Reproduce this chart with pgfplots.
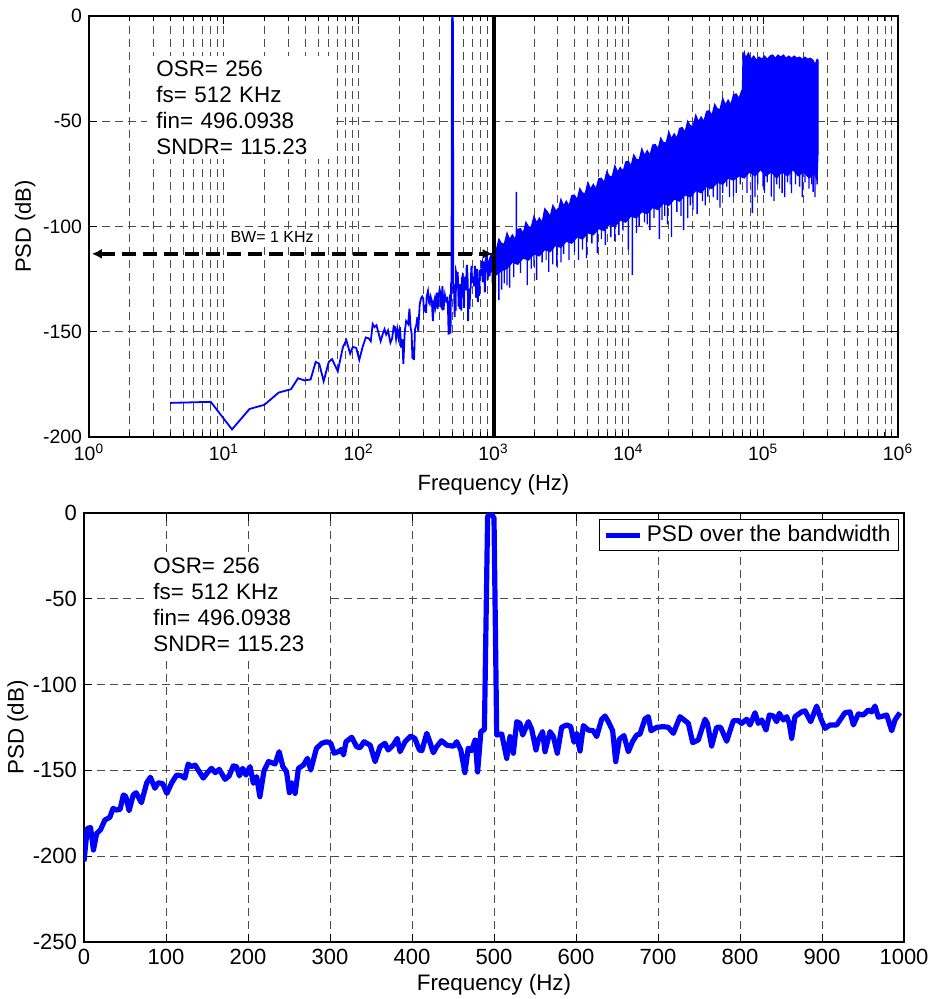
\documentclass[border=0pt]{standalone}
\usepackage{pgfplots}
\pgfplotsset{compat=1.18}
\usepackage{pgfplotstable}
\usepackage{fontspec}
\setmainfont{Liberation Sans}
\usetikzlibrary{arrows.meta}

% PSD bins from 0 to 1 kHz (shared by both panels)
\pgfplotstableread{
f psd
0 -203
4 -183.8
8 -183.3
11.5 -196.4
15.5 -186.7
20 -184.7
25.5 -178.9
31.5 -177.3
35.5 -172.1
39.5 -173.1
44 -172.7
48 -164.3
51 -165.2
55 -173.5
60 -164.3
63.5 -163
70 -168.8
76.5 -157.2
81 -154
86.5 -160.4
90.5 -157.2
96 -157.7
101 -163.4
107 -157.2
113 -152.7
119 -153.2
123 -154.5
127 -146.3
131 -147.8
135.5 -146.9
140.5 -150.7
145.5 -154.5
150.5 -151.3
155.5 -148.8
160 -151.3
165 -149.4
172 -155.2
177 -153.2
182 -147.4
186 -147.8
189.5 -153.2
193.5 -148.8
197.5 -152.7
202.5 -147.8
206.5 -157.5
210.5 -153.6
214.5 -165.3
219.5 -150.2
225 -144.9
229 -145.5
233 -146.3
238 -139.1
242.5 -147.8
247 -150.7
250.5 -163
253.5 -157.2
257.5 -163.4
261.5 -148.8
267.5 -146.9
272.5 -143
276.5 -149.8
283.5 -137.1
290 -134.2
296 -133.3
301 -134.2
305 -140
310 -139.1
314 -137.8
316.5 -141
319.5 -133.3
326.5 -130.7
332.5 -136.2
336.5 -136.8
341.5 -133.3
349 -135.3
355 -144.9
361 -136.2
367 -134.2
371 -138.1
377 -135.3
382 -131.4
385.5 -139.1
391.5 -133.3
398.5 -130
403.5 -131.4
409 -138.1
412 -138.5
418 -128.4
421 -132.3
426 -139.7
430 -136.2
436 -132.7
442.5 -135.3
450.5 -135.9
454.5 -133.3
459.5 -138.1
464.5 -151.3
468.5 -137.1
472.5 -138.5
477 -132.3
480 -150.9
484 -127.4
488.3 -126.1
492.2 -2
496.1 0
500 -3
503.3 -129.4
509.4 -128.8
515.5 -143
519.5 -130.3
523.6 -140
527.7 -121.6
531.7 -122.6
535 -129.4
541.9 -121.6
546 -126.1
551.2 -138.1
554 -132.3
559.3 -127.4
562.2 -139.1
568.3 -127.4
572.4 -130.3
577.2 -140
582.5 -124.9
588.7 -123.5
593.5 -124.5
597.6 -133.6
600.8 -128.4
604.9 -138.7
609 -123.9
615 -126.5
621.1 -126.9
625.2 -130.3
631.3 -120.2
635.4 -118.3
639.4 -121.6
644.7 -126.9
648.4 -144.9
652.8 -131.9
658.5 -129.7
663.8 -139.1
669 -133.2
674 -129.4
678 -128.8
684.1 -120
688.2 -118.7
691.5 -126.9
698.4 -124.9
706.5 -124.5
712.6 -124.9
718.7 -128.4
726.8 -118.7
732.9 -121
737 -122.6
742.3 -133.8
749.1 -132.3
757.3 -120.2
760.2 -122.6
765.4 -135.8
771.5 -124.9
776.4 -124.9
783.7 -133
791.9 -121
798 -121
802 -122.6
808.1 -120.2
812.2 -123.5
818.3 -116.4
822.3 -122.6
826.5 -120.6
831.7 -126.5
835.8 -117.7
840.7 -118.3
844.7 -121.6
847.9 -116.7
852.8 -120.6
856.9 -118.7
860.1 -122.6
863 -131.3
867 -118.7
875.2 -115.9
879.3 -115.3
886.2 -121.6
893.5 -112.5
898.4 -119.6
903.7 -125.5
909.8 -123.5
917.9 -123.5
928 -116.4
934.1 -115.9
938.2 -123.5
944.3 -117.1
950.4 -117.7
956.5 -114.8
960.6 -115.9
964.6 -112.5
968.7 -119
974.8 -118.3
978.9 -117.7
985 -126.9
989 -120.6
995.1 -116.4
}\lowtab

\pgfplotsset{
  matlab/.style={
    scale only axis,
    tick align=inside,
    major tick length=4pt,
    minor tick length=2.5pt,
    axis line style={line width=0.6pt},
    every tick/.style={black, line width=0.5pt},
    major grid style={black!70, line width=0.45pt, dash pattern=on 4pt off 2.5pt},
    minor grid style={black!70, line width=0.45pt, dash pattern=on 4pt off 2.5pt},
    /pgf/number format/assume math mode=true,
    /pgf/number format/1000 sep={},
  },
}

\begin{document}
\begin{tikzpicture}
\path[use as bounding box] (0pt,0pt) rectangle (465.5pt,-499.5pt);

% ---------- top panel: full spectrum, log frequency ----------
\begin{axis}[matlab,
    at={(44.5pt,-8pt)}, anchor=north west,
    width=404.5pt, height=210.5pt,
    xmode=log, xmin=1, xmax=1e6, ymin=-200, ymax=0,
    xtick={1,10,100,1000,10000,100000,1000000},
    xticklabels={10\textsuperscript{0},10\textsuperscript{1},10\textsuperscript{2},10\textsuperscript{3},10\textsuperscript{4},10\textsuperscript{5},10\textsuperscript{6}},
    minor xtick={2,3,4,5,6,7,8,9,20,30,40,50,60,70,80,90,200,300,400,500,600,700,800,900,
      2000,3000,4000,5000,6000,7000,8000,9000,20000,30000,40000,50000,60000,70000,80000,90000,
      200000,300000,400000,500000,600000,700000,800000,900000},
    ytick={-200,-150,-100,-50,0},
    xmajorgrids, xminorgrids, ymajorgrids,
    ticklabel style={font=\fontsize{9.7}{11}\selectfont},
    label style={font=\fontsize{11}{13}\selectfont},
    xlabel={Frequency (Hz)}, ylabel={PSD (dB)},
    ylabel shift=-3pt,
]
% noise band above 1 kHz
\addplot[draw=blue, fill=blue, line width=0.5pt] coordinates {
(1000,-109) (1047,-111.2) (1096,-105.9) (1148,-108.1) (1202,-108.3) (1259,-103) (1318,-106.2) (1380,-103.9)
(1445,-106.1) (1514,-101.3) (1585,-101) (1660,-103.2) (1738,-97.9) (1820,-100.1) (1905,-100.3) (1995,-95)
(2089,-98.2) (2188,-95.9) (2291,-98.1) (2399,-91.5) (2512,-93) (2630,-95.2) (2754,-89.9) (2884,-92.1)
(3020,-92.3) (3162,-87) (3311,-90.2) (3467,-87.9) (3631,-90.1) (3802,-85.3) (3981,-85) (4169,-87.2)
(4365,-81.9) (4571,-84.1) (4786,-84.3) (5012,-79) (5248,-82.2) (5495,-79.9) (5754,-82.1) (6026,-77.3)
(6310,-77) (6607,-79.2) (6918,-73.9) (7244,-76.1) (7586,-76.3) (7943,-71) (8318,-74.2) (8710,-71.9)
(9120,-74.1) (9550,-69.3) (10000,-69) (10471,-71.2) (10965,-65.9) (11482,-68.1) (12023,-68.3) (12589,-63)
(13183,-66.2) (13804,-63.9) (14454,-66.1) (15136,-61.3) (15849,-61) (16596,-63.2) (17378,-57.9) (18197,-60.1)
(19055,-60.3) (19953,-55) (20893,-58.2) (21878,-55.9) (22909,-58.1) (23988,-53.3) (25119,-53) (26303,-55.2)
(27542,-49.9) (28840,-52.1) (30200,-52.3) (31623,-47) (33113,-50.2) (34674,-47.9) (36308,-50.1) (38019,-45.3)
(39811,-45) (41687,-47.2) (43652,-41.9) (45709,-44.1) (47863,-44.3) (50119,-39) (52481,-42.2) (54954,-39.9)
(57544,-42.1) (60256,-37.3) (63096,-37) (66069,-39.2) (69183,-35.5) (69984,-36) (70795,-19) (72444,-17)
(74131,-20) (77625,-17.5) (81283,-20.5) (85114,-19) (89125,-21) (93325,-19.5) (97724,-20.5) (102329,-19)
(107152,-20.5) (112202,-19) (117490,-18.5) (123027,-20) (128825,-18.5) (134896,-19.5) (141254,-18.5) (147911,-20)
(154882,-19) (162181,-20) (169824,-19) (177828,-20) (186209,-19.5) (194984,-20.5) (204174,-19.5) (213796,-20.5)
(223872,-20) (234423,-21) (242661,-23) (251189,-20.5) (256000,-21)
(256000,-63) (251189,-78) (239883,-75) (218776,-77) (199526,-74) (181970,-76) (165959,-73) (151356,-76)
(138038,-74) (125893,-77) (114815,-74) (104713,-76) (95499,-73) (87096,-76) (79433,-74) (72444,-77)
(66069,-76) (60256,-78) (54954,-77) (50119,-80) (45709,-79) (41687,-82) (38019,-81) (34674,-84)
(31623,-83) (28840,-86) (26303,-85) (23988,-88) (21878,-87) (19953,-90) (18197,-89) (16596,-92)
(15136,-91) (13804,-94) (12589,-93) (11482,-96) (10471,-95) (9550,-98) (8710,-97) (7943,-100)
(7244,-99) (6607,-102) (6026,-101) (5495,-104) (5012,-103) (4571,-106) (4169,-105) (3802,-108)
(3467,-107) (3162,-110) (2884,-109) (2630,-112) (2399,-111) (2188,-114) (1995,-113) (1820,-116)
(1660,-115) (1514,-118) (1380,-117) (1259,-120) (1148,-121) (1047,-123) (1000,-124) (1000,-109)
};
% deep spikes of the band
\addplot[blue, line width=0.7pt] coordinates {
(1096,-115) (1096,-135) (1096,-115) (1148,-114) (1148,-130) (1148,-114)
(1202,-113) (1202,-127) (1202,-113) (1318,-112) (1318,-129) (1318,-112)
(1479,-108) (1479,-83.5) (1479,-108) (1778,-110) (1778,-127.8) (1778,-110)
(1905,-109) (1905,-120) (1905,-109) (2089,-108) (2089,-125.4) (2089,-108)
(2291,-107) (2291,-117) (2291,-107) (2570,-106) (2570,-121.5) (2570,-106)
(2951,-104) (2951,-119) (2951,-104) (3311,-103) (3311,-113) (3311,-103)
(3631,-102) (3631,-116) (3631,-102) (4266,-100) (4266,-115.9) (4266,-100)
(4898,-98) (4898,-115) (4898,-98) (5370,-97) (5370,-108) (5370,-97)
(5888,-96) (5888,-112.7) (5888,-96) (6761,-95) (6761,-108.8) (6761,-95)
(7413,-94) (7413,-105) (7413,-94) (8511,-92) (8511,-104) (8511,-92)
(10000,-90) (10000,-111) (10000,-90) (10715,-89) (10715,-123) (10715,-89)
(12023,-88) (12023,-100) (12023,-88) (13183,-87) (13183,-98) (13183,-87)
(14454,-86) (14454,-101.7) (14454,-86) (15488,-85) (15488,-96) (15488,-85)
(16982,-84) (16982,-106) (16982,-84) (18621,-83) (18621,-95) (18621,-83)
(20893,-82) (20893,-105) (20893,-82) (22909,-81) (22909,-93) (22909,-81)
(25704,-80) (25704,-101.7) (25704,-80) (28840,-79) (28840,-90) (28840,-79)
(32359,-78) (32359,-94) (32359,-78) (35481,-77) (35481,-88) (35481,-77)
(38905,-76) (38905,-85.8) (38905,-76) (42658,-75) (42658,-86) (42658,-75)
(45709,-74) (45709,-87.4) (45709,-74) (50119,-73) (50119,-84) (50119,-73)
(53703,-72) (53703,-81) (53703,-72) (60256,-72) (60256,-85.8) (60256,-72)
(67608,-71) (67608,-80) (67608,-71) (83176,-70) (83176,-93.7) (83176,-70)
(91201,-69) (91201,-80) (91201,-69) (100000,-69) (100000,-81) (100000,-69)
(107152,-69) (107152,-79) (107152,-69) (114815,-69) (114815,-85.8) (114815,-69)
(125893,-69) (125893,-80) (125893,-69) (138038,-69) (138038,-84.2) (138038,-69)
(151356,-69) (151356,-79) (151356,-69) (162181,-69) (162181,-84.2) (162181,-69)
(173780,-69) (173780,-80) (173780,-69) (186209,-69) (186209,-81) (186209,-69)
(204174,-69) (204174,-79) (204174,-69) (218776,-69) (218776,-82) (218776,-69)
(234423,-69) (234423,-83.5) (234423,-69) (251189,-69) (251189,-80) (251189,-69)
};
% shorter spikes of the band
\addplot[blue, line width=0.6pt] coordinates {
(1035,-117) (1035,-131) (1035,-117) (1259,-116) (1259,-128) (1259,-116)
(1413,-112) (1413,-124) (1413,-112) (1585,-110) (1585,-122) (1585,-110)
(1995,-107) (1995,-119) (1995,-107) (2455,-105) (2455,-116) (2455,-105)
(2754,-104) (2754,-118) (2754,-104) (3162,-103) (3162,-117) (3162,-103)
(3981,-100) (3981,-112) (3981,-100) (4571,-99) (4571,-111) (4571,-99)
(6310,-95) (6310,-106) (6310,-95) (7943,-93) (7943,-107) (7943,-93)
(9120,-91) (9120,-102) (9120,-91) (11482,-89) (11482,-103) (11482,-89)
(13804,-87) (13804,-99) (13804,-87) (17783,-84) (17783,-97) (17783,-84)
(19498,-83) (19498,-99) (19498,-83) (24547,-81) (24547,-95) (24547,-81)
(27542,-80) (27542,-96) (27542,-80) (30200,-79) (30200,-92) (30200,-79)
(37154,-76) (37154,-90) (37154,-76) (47863,-74) (47863,-91) (47863,-74)
(56234,-72) (56234,-86) (56234,-72) (63096,-71) (63096,-84) (63096,-71)
(75858,-70) (75858,-84) (75858,-70) (87096,-70) (87096,-86) (87096,-70)
(102329,-69) (102329,-84) (102329,-69) (120226,-69) (120226,-88) (120226,-69)
(131826,-69) (131826,-82) (131826,-69) (144544,-69) (144544,-86) (144544,-69)
(158489,-69) (158489,-80) (158489,-69) (194984,-69) (194984,-86) (194984,-69)
(229087,-69) (229087,-80) (229087,-69) (242661,-69) (242661,-86) (242661,-69)
};
% in-band spectrum (DC bin skipped on the log axis)
\addplot[blue, line width=0.9pt] table[x=f, y=psd, skip coords between index={0}{1}] {\lowtab};
% bandwidth marker
\addplot[black, line width=2pt] coordinates {(1000,-200) (1000,0)};
\addplot[black, line width=2pt, dash pattern=on 7pt off 3.5pt, {Latex[length=5pt,width=5pt]}-{Latex[length=5pt,width=5pt]}]
  coordinates {(1.05,-113) (985,-113)};
\node[fill=white, inner sep=1pt, font=\fontsize{8}{9.5}\selectfont] at (axis cs:22.8,-105) {BW= 1 KHz};
\node[anchor=north west, fill=white, inner xsep=4.5pt, inner ysep=2.5pt, text width=84pt, align=left,
      font=\fontsize{11.2}{13}\selectfont] at (rel axis cs:0.0717,0.907)
      {OSR= 256\\fs= 512 KHz\\fin= 496.0938\\SNDR= 115.23};
\end{axis}

% ---------- bottom panel: zoom on the signal band ----------
\begin{axis}[matlab,
    at={(42pt,-256.5pt)}, anchor=north west,
    width=410pt, height=214.5pt,
    xmin=0, xmax=1000, ymin=-250, ymax=0,
    xtick={0,100,200,300,400,500,600,700,800,900,1000},
    ytick={-250,-200,-150,-100,-50,0},
    grid=major,
    ticklabel style={font=\fontsize{11}{12}\selectfont},
    label style={font=\fontsize{11.2}{13}\selectfont},
    xlabel={Frequency (Hz)}, ylabel={PSD (dB)},
    ylabel shift=-4.5pt, xlabel shift=-2pt,
    legend style={at={(0.994,0.986)}, anchor=north east, draw=black, line width=0.5pt,
      font=\fontsize{11.3}{13}\selectfont, inner xsep=2pt, inner ysep=1pt},
    legend cell align=left,
]
\addplot[blue, line width=2.6pt, line join=round] table[x=f, y=psd] {\lowtab};
\addlegendentry{PSD over the bandwidth}
\node[anchor=north west, fill=white, inner xsep=4.5pt, inner ysep=2.5pt, text width=84pt, align=left,
      font=\fontsize{11.2}{13}\selectfont] at (rel axis cs:0.0732,0.907)
      {OSR= 256\\fs= 512 KHz\\fin= 496.0938\\SNDR= 115.23};
\end{axis}
\end{tikzpicture}
\end{document}
